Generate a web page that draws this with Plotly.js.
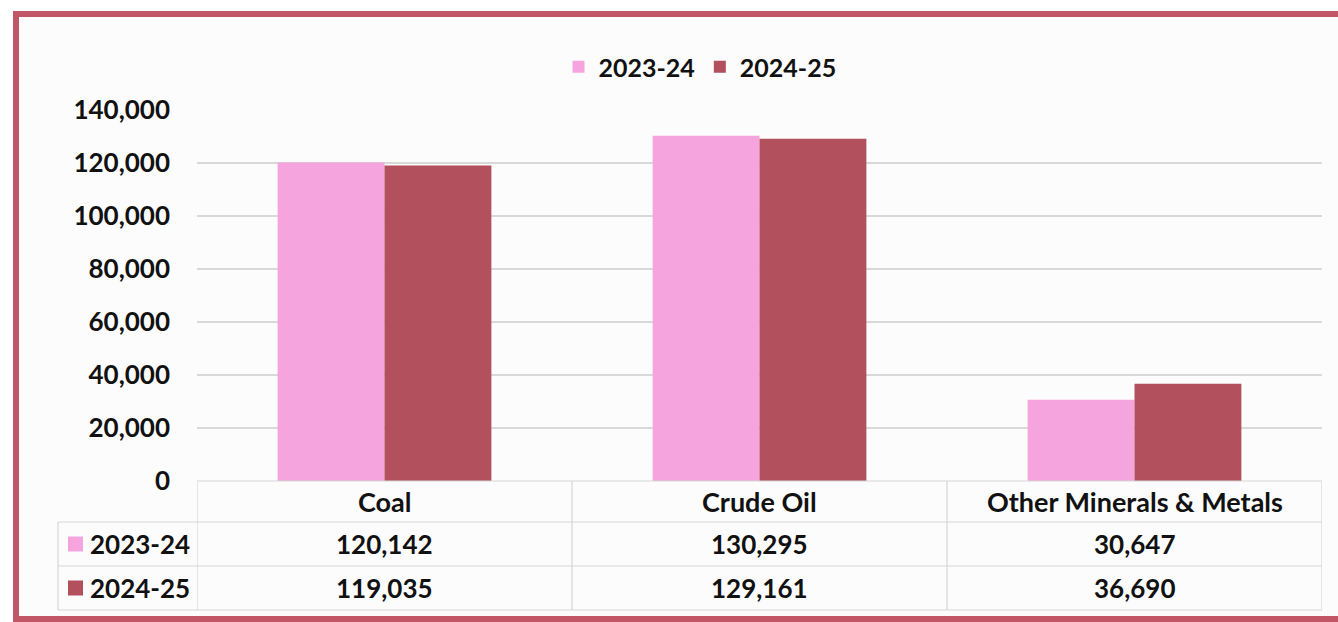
<!DOCTYPE html>
<html>
<head>
<meta charset="utf-8">
<script src="https://cdn.plot.ly/plotly-3.0.1.min.js"></script>
<style>
  html, body { margin:0; padding:0; background:#ffffff; }
  #wrap { position:relative; width:1338px; height:622px; overflow:hidden; background:#ffffff; }
  #frame { position:absolute; left:13px; top:11px; width:1340px; height:599px; border:6px solid #C25566; background:#FCFCFC; }
  #chart { position:absolute; left:0; top:0; width:1338px; height:622px; }
</style>
</head>
<body>
<div id="wrap">
  <div id="frame"></div>
  <div id="chart"></div>
</div>
<script>
// ---- data ----
const categories = ["Coal", "Crude Oil", "Other Minerals & Metals"];
const seriesNames = ["2023-24", "2024-25"];
const values2023 = [120142, 130295, 30647];
const values2024 = [119035, 129161, 36690];
const yTicks = [0, 20000, 40000, 60000, 80000, 100000, 120000, 140000];

// ---- styling ----
const colors = ["#F6A4DD", "#B3505D"];
const FONT = "Lato, 'Open Sans', sans-serif";
const gridColor = "#D9D9D9";
const tableLine = "#D6D6D6";
const txt = "#111111";
const FS = 26;

const seriesValues = [values2023, values2024];

const traces = seriesNames.map((name, i) => ({
  type: "bar",
  name: name,
  x: categories,
  y: seriesValues[i],
  marker: { color: colors[i], line: { width: 0 } },
  hoverinfo: "x+y+name"
}));

// table geometry (paper coords relative to plot area)
const plotL = 197, plotW = 1125, plotB = 481, plotH = 371;
const px2x = p => (p - plotL) / plotW;
const py2y = p => (plotB - p) / plotH;

const rowTop = [481, 522, 566];
const rowBot = [522, 566, 610];
const leftColX = px2x(58);

const shapes = [];
const annotations = [];

shapes.push({ type:"line", xref:"paper", yref:"paper", x0:0, x1:1, y0:py2y(481), y1:py2y(481), line:{color:tableLine, width:1.2} });
[522, 566, 610].forEach(p => {
  shapes.push({ type:"line", xref:"paper", yref:"paper", x0:leftColX, x1:1, y0:py2y(p), y1:py2y(p), line:{color:tableLine, width:1.2} });
});
for (let k = 0; k <= categories.length; k++) {
  shapes.push({ type:"line", xref:"x", yref:"paper", x0:k-0.5, x1:k-0.5, y0:py2y(481), y1:py2y(610), line:{color:tableLine, width:1.2} });
}
shapes.push({ type:"line", xref:"paper", yref:"paper", x0:leftColX, x1:leftColX, y0:py2y(522), y1:py2y(610), line:{color:tableLine, width:1.2} });

categories.forEach((c, k) => {
  annotations.push({ xref:"x", yref:"paper", x:c, y:py2y((rowTop[0]+rowBot[0])/2), text:c, showarrow:false,
    xanchor:"center", yanchor:"middle", font:{family:FONT, size:FS+1, color:txt, weight:"bold"} });
});
seriesNames.forEach((name, i) => {
  const cy = (rowTop[i+1] + rowBot[i+1]) / 2;
  shapes.push({ type:"rect", xref:"paper", yref:"paper", x0:px2x(68), x1:px2x(83), y0:py2y(cy-7.5), y1:py2y(cy+7.5),
    fillcolor:colors[i], line:{width:0} });
  annotations.push({ xref:"paper", yref:"paper", x:px2x(88), y:py2y(cy), text:name, showarrow:false,
    xanchor:"left", yanchor:"middle", font:{family:FONT, size:FS, color:txt, weight:"bold"} });
  categories.forEach((c, k) => {
    annotations.push({ xref:"x", yref:"paper", x:c, y:py2y(cy), text:seriesValues[i][k].toLocaleString("en-US"),
      showarrow:false, xanchor:"center", yanchor:"middle", font:{family:FONT, size:FS, color:txt, weight:"bold"} });
  });
});

const layout = {
  width: 1338, height: 622,
  margin: { l: plotL, r: 1338 - plotL - plotW, t: 110, b: 622 - plotB },
  paper_bgcolor: "rgba(0,0,0,0)",
  plot_bgcolor: "rgba(0,0,0,0)",
  barmode: "group",
  bargap: 0.43,
  bargroupgap: 0,
  showlegend: true,
  legend: {
    orientation: "h", xref:"paper", yref:"paper", x: px2x(700), y: py2y(67),
    xanchor: "center", yanchor: "middle",
    font: { family: FONT, size: 25, color: txt, weight: "bold" },
    itemwidth: 30, bgcolor: "rgba(0,0,0,0)", traceorder: "normal"
  },
  xaxis: {
    type: "category", range: [-0.5, 2.5], showticklabels: false, showgrid: false,
    zeroline: false, showline: false, ticks: "", fixedrange: true
  },
  yaxis: {
    range: [0, 140000], tickvals: yTicks, ticktext: yTicks.map(v => v.toLocaleString("en-US")),
    showgrid: true, gridcolor: gridColor, gridwidth: 1.2, zeroline: false, showline: false,
    ticks: "", ticklabelstandoff: 26,
    tickfont: { family: FONT, size: FS, color: txt, weight: "bold" }, fixedrange: true
  },
  shapes: shapes,
  annotations: annotations
};

Plotly.newPlot("chart", traces, layout, { displayModeBar: false, staticPlot: true });
</script>
</body>
</html>
